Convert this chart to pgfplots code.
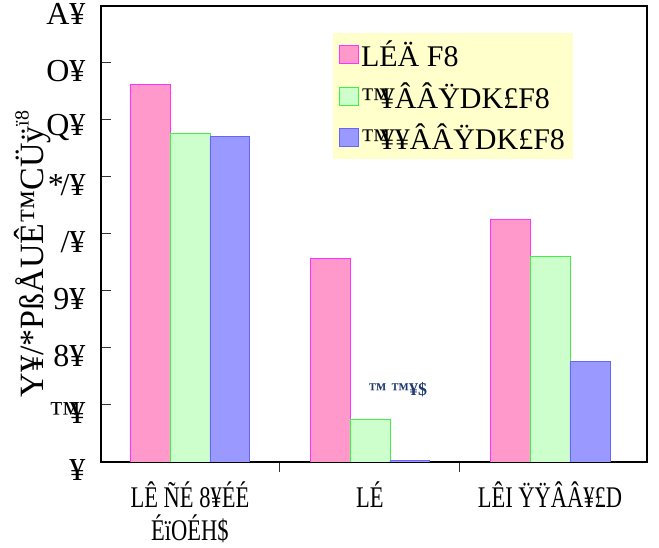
\documentclass[border=0pt]{standalone}
\usepackage{fontspec}
\setmainfont{Liberation Serif}
\usepackage{graphicx}
\usepackage{pgfplots}
\pgfplotsset{compat=1.18}

\definecolor{pinkfill}{HTML}{FF99CC}
\definecolor{pinkedge}{HTML}{FF33FF}
\definecolor{greenfill}{HTML}{CCFFCC}
\definecolor{greenedge}{HTML}{44EE44}
\definecolor{bluefill}{HTML}{9999FF}
\definecolor{blueedge}{HTML}{6666FF}
\definecolor{legendfill}{HTML}{FFFFCC}
\definecolor{notecolor}{HTML}{1F3A70}

\newcommand{\labelfont}{\fontsize{30}{30}\selectfont}
\newcommand{\tickfont}{\fontsize{32}{32}\selectfont}
\newcommand{\narrow}[1]{\scalebox{0.75}[1]{#1}}

\begin{document}
\begin{tikzpicture}
\begin{axis}[
  at={(0,0)}, anchor=south west,
  scale only axis,
  width=546pt, height=456pt,
  xmin=-0.494, xmax=2.539,
  ymin=0, ymax=80,
  axis line style={line width=1.8pt, black},
  tick align=inside,
  major tick length=10pt,
  tick style={line width=1pt, black!80},
  ytick={0,10,...,80},
  ytick pos=left,
  yticklabels={¥, ™\kern-0.35em¥, 8¥, 9¥, /¥, *\kern-0.1em/¥, Q¥, O¥, A¥},
  yticklabel style={font=\tickfont, anchor=east, xshift=-12pt, yshift=-8pt},
  xtick={0.5,1.5},
  xticklabels={},
  xtick pos=bottom,
  extra x ticks={0,1,2},
  extra x tick labels={
    {\narrow{LÊ ÑÉ 8¥ÉÉ}\\[3pt]\narrow{ÉïOÉH\$}},
    {\narrow{LÉ}},
    {\narrow{LÊI ŸŸÂÂ¥£D}}},
  extra x tick style={major tick length=0pt,
    tick label style={font=\labelfont, align=center, anchor=north, yshift=-16pt}},
  ybar,
  bar width=0.222,
  legend style={
    at={(rel axis cs:0.425,0.941)}, anchor=north west,
    fill=legendfill, draw=none,
    font=\labelfont,
    inner xsep=6pt, inner ysep=6pt,
    row sep=10pt,
    legend cell align=left,
  },
  legend image code/.code={\draw[#1, line width=0.8pt] (0pt,-9pt) rectangle (19pt,9pt);},
]
\addplot[bar shift=-0.222, fill=pinkfill, draw=pinkedge, line width=0.8pt]
  coordinates {(0,66.3) (1,35.7) (2,42.5)};
\addplot[bar shift=0, fill=greenfill, draw=greenedge, line width=0.8pt]
  coordinates {(0,57.6) (1,7.4) (2,36.0)};
\addplot[bar shift=0.222, fill=bluefill, draw=blueedge, line width=0.8pt]
  coordinates {(0,57.1) (1,0.35) (2,17.6)};
\legend{LÉÄ F8, ™\kern-0.35em¥ÂÂŸDK£F8, ™\kern-0.35em¥¥ÂÂŸDK£F8}
\node[font=\fontsize{18}{18}\selectfont\bfseries, text=notecolor]
  at (axis cs:1.155,12.7) {™ ™¥\$};
\end{axis}
\node[rotate=90, font=\fontsize{34}{34}\selectfont, anchor=center] at (-68pt,208pt)
  {Y¥/*PßÅUÊ™CÜÿ\raisebox{0.45em}{\fontsize{20}{20}\selectfont ï8}};
\pgfresetboundingbox
\path[use as bounding box] (-101pt,-86pt) rectangle (558pt,462pt);
\end{tikzpicture}
\end{document}
